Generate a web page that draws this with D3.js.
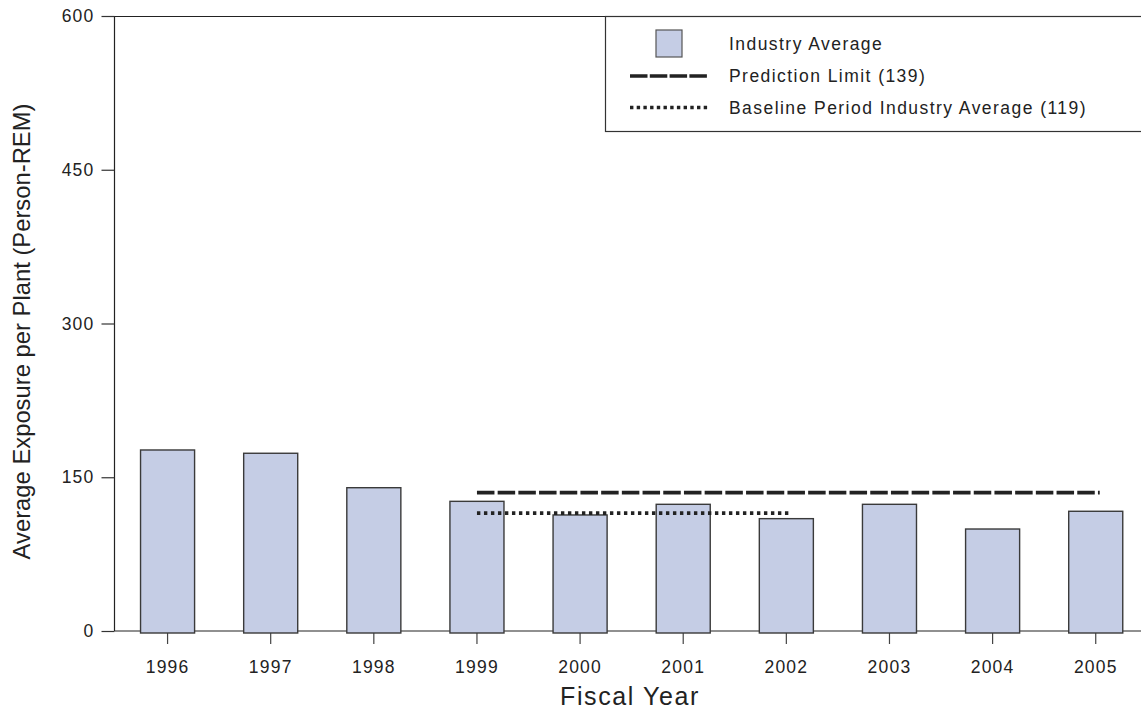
<!DOCTYPE html>
<html>
<head>
<meta charset="utf-8">
<script src="https://cdn.jsdelivr.net/npm/d3@7"></script>
<style>
  html, body { margin: 0; padding: 0; background: #fff; }
  svg { display: block; font-family: "Liberation Sans", Arial, sans-serif; }
</style>
</head>
<body>
<svg id="chart" width="1141" height="712"></svg>
<script>
const years = ["1996", "1997", "1998", "1999", "2000", "2001", "2002", "2003", "2004", "2005"];
const industryAverage = [176.6, 173.4, 139.8, 126.5, 113.2, 123.6, 109.6, 123.6, 99.5, 116.8];
const predictionLimit = { value: 135, from: "1999", to: "2005" };
const baselineAverage = { value: 115, from: "1999", to: "2002" };
const yTicks = [0, 150, 300, 450, 600];
const legendLabels = ["Industry Average", "Prediction Limit (139)", "Baseline Period Industry Average (119)"];
const xTitle = "Fiscal Year";
const yTitle = "Average Exposure per Plant (Person-REM)";

(function () {
const svg = d3.select("#chart");
const pLeft = 114.5, pTop = 16, pBottom = 631, pRight = 1160;

const x = d3.scaleBand().domain(years).range([116, 1147.3]).paddingInner(0.476).paddingOuter(0.238);
const y = d3.scaleLinear().domain([0, 600]).range([pBottom, pTop]);
const cx = d => x(d) + x.bandwidth() / 2;

// top border
svg.append("line").attr("x1", pLeft).attr("x2", pRight).attr("y1", pTop + 0.5).attr("y2", pTop + 0.5)
  .attr("stroke", "#222").attr("stroke-width", 1.2);

// y axis
const yAxis = d3.axisLeft(y).tickValues(yTicks).tickSize(13).tickPadding(7).tickFormat(d3.format("d"));
const gy = svg.append("g").attr("transform", `translate(${pLeft},0)`).call(yAxis);
gy.select(".domain").attr("stroke", "#222").attr("stroke-width", 1.2).attr("d", `M0,${pTop}V${pBottom}`);
gy.selectAll(".tick line").attr("stroke", "#333").attr("stroke-width", 1.2);
gy.selectAll(".tick text").attr("font-size", "17.5px").attr("fill", "#222")
  .attr("font-family", "Liberation Sans, Arial, sans-serif").style("letter-spacing", "1.2px");

// x axis
const xAxis = d3.axisBottom(x).tickSize(13).tickPadding(17).tickSizeOuter(0);
const gx = svg.append("g").attr("transform", `translate(0,${pBottom})`).call(xAxis);
gx.select(".domain").attr("stroke", "#222").attr("stroke-width", 1.2).attr("d", `M${pLeft},0H${pRight}`);
gx.selectAll(".tick line").attr("stroke", "#444").attr("stroke-width", 1.2);
gx.selectAll(".tick text").attr("font-size", "17.5px").attr("fill", "#222")
  .attr("font-family", "Liberation Sans, Arial, sans-serif").style("letter-spacing", "1.2px");

// bars (drawn over the axis line, as in the reference)
svg.append("g").selectAll("rect").data(years).join("rect")
  .attr("x", d => x(d))
  .attr("y", (d, i) => y(industryAverage[i]))
  .attr("width", x.bandwidth())
  .attr("height", (d, i) => y(0) + 2 - y(industryAverage[i]))
  .attr("fill", "#c5cde5")
  .attr("stroke", "#3a3a3a")
  .attr("stroke-width", 1.4);

// reference lines
svg.append("line")
  .attr("x1", cx(predictionLimit.from)).attr("x2", cx(predictionLimit.to) + 4)
  .attr("y1", y(predictionLimit.value)).attr("y2", y(predictionLimit.value))
  .attr("stroke", "#222").attr("stroke-width", 3.6).attr("stroke-dasharray", "17.5,3.2");
svg.append("line")
  .attr("x1", cx(baselineAverage.from)).attr("x2", cx(baselineAverage.to) + 4)
  .attr("y1", y(baselineAverage.value)).attr("y2", y(baselineAverage.value))
  .attr("stroke", "#222").attr("stroke-width", 3.6).attr("stroke-dasharray", "3.4,3.6");

// axis titles
svg.append("text").attr("x", 630).attr("y", 705).attr("text-anchor", "middle")
  .attr("font-size", "25px").attr("fill", "#222").style("letter-spacing", "1.6px").text(xTitle);
svg.append("text").attr("transform", "translate(30,331.5) rotate(-90)").attr("text-anchor", "middle")
  .attr("font-size", "23.8px").attr("fill", "#222").text(yTitle);

// legend
const lg = svg.append("g");
lg.append("rect").attr("x", 605.5).attr("y", pTop + 0.5).attr("width", 600).attr("height", 115)
  .attr("fill", "#fff").attr("stroke", "#333").attr("stroke-width", 1.2);
lg.append("rect").attr("x", 656).attr("y", 30).attr("width", 26).attr("height", 27)
  .attr("fill", "#c5cde5").attr("stroke", "#555").attr("stroke-width", 1.2);
lg.append("line").attr("x1", 630).attr("x2", 709).attr("y1", 76).attr("y2", 76)
  .attr("stroke", "#222").attr("stroke-width", 3.6).attr("stroke-dasharray", "17.5,2.3");
lg.append("line").attr("x1", 630).attr("x2", 709).attr("y1", 107.5).attr("y2", 107.5)
  .attr("stroke", "#222").attr("stroke-width", 3.6).attr("stroke-dasharray", "3.4,3.3");
const legendY = [50, 82, 113.5];
lg.selectAll("text.leg").data(legendLabels).join("text").attr("class", "leg")
  .attr("x", 729).attr("y", (d, i) => legendY[i])
  .attr("font-size", "17.5px").attr("fill", "#222").style("letter-spacing", "1.45px").text(d => d);
})();
</script>
</body>
</html>
